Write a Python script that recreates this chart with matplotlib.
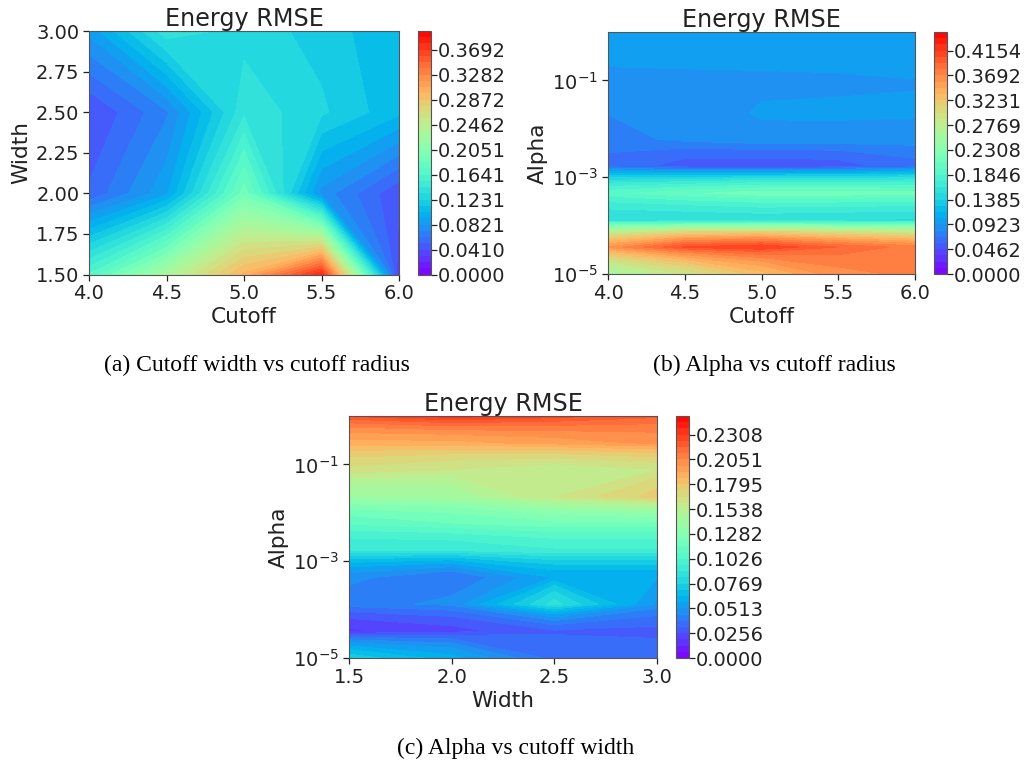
import numpy as np
import matplotlib
matplotlib.use("Agg")
import matplotlib.pyplot as plt

W, H = 1024, 765

cutoffs = [4.0, 4.5, 5.0, 5.5, 6.0]
widths = [1.5, 2.0, 2.5, 3.0]
alphas = [1e-5, 3.59e-5, 1.29e-4, 4.64e-4, 1.67e-3, 5.99e-3, 2.15e-2, 7.74e-2, 0.278, 1.0]

# rows: width, columns: cutoff
rmse_a = [
    [0.165, 0.232, 0.300, 0.380, 0.030],
    [0.053, 0.090, 0.190, 0.078, 0.042],
    [0.040, 0.070, 0.141, 0.125, 0.105],
    [0.085, 0.140, 0.129, 0.119, 0.103],
]
# rows: alpha, columns: cutoff
rmse_b = [
    [0.255, 0.290, 0.330, 0.365, 0.372],
    [0.360, 0.405, 0.415, 0.392, 0.375],
    [0.150, 0.150, 0.152, 0.150, 0.148],
    [0.192, 0.205, 0.215, 0.215, 0.212],
    [0.066, 0.052, 0.050, 0.052, 0.065],
    [0.075, 0.084, 0.0905, 0.090, 0.0885],
    [0.0815, 0.086, 0.0935, 0.094, 0.094],
    [0.086, 0.088, 0.089, 0.090, 0.0915],
    [0.097, 0.097, 0.097, 0.097, 0.097],
    [0.098, 0.098, 0.099, 0.102, 0.102],
]
# rows: alpha, columns: width
rmse_c = [
    [0.075, 0.060, 0.036, 0.035],
    [0.018, 0.023, 0.031, 0.030],
    [0.042, 0.0465, 0.086, 0.050],
    [0.047, 0.038, 0.058, 0.058],
    [0.090, 0.090, 0.095, 0.095],
    [0.110, 0.115, 0.120, 0.120],
    [0.140, 0.142, 0.160, 0.176],
    [0.165, 0.160, 0.155, 0.160],
    [0.190, 0.190, 0.195, 0.200],
    [0.225, 0.235, 0.228, 0.220],
]

vmax_a, vmax_b, vmax_c = 0.40, 0.45, 0.25
title = "Energy RMSE"
captions = ["(a) Cutoff width vs cutoff radius", "(b) Alpha vs cutoff radius", "(c) Alpha vs cutoff width"]

TICK_FS = 14
LABEL_FS = 15.6
TITLE_FS = 17.2
TXT = "#222222"
plt.rcParams.update({
    "font.family": "DejaVu Sans",
    "text.color": TXT,
    "axes.labelcolor": TXT,
    "xtick.color": TXT,
    "ytick.color": TXT,
    "axes.edgecolor": "#555555",
    "mathtext.default": "regular",
})

fig = plt.figure(figsize=(W / 100, H / 100), dpi=100)


def box(x0, x1, y0, y1):
    return [x0 / W, 1 - y1 / H, (x1 - x0) / W, (y1 - y0) / H]


def panel(x, y, z, vmax, xlabel, ylabel, logy, pos, cpos, xticks, yticks=None):
    ax = fig.add_axes(box(*pos))
    cax = fig.add_axes(box(*cpos))
    levels = np.linspace(0, vmax, 40)
    cs = ax.contourf(x, y, z, levels=levels, cmap="rainbow")
    if logy:
        ax.set_yscale("log")
        ax.set_yticks([1e-5, 1e-3, 1e-1])
        ax.minorticks_off()
        ax.set_ylim(1e-5, 1.0)
    else:
        ax.set_yticks(yticks)
        ax.set_yticklabels([f"{t:.2f}" for t in yticks])
    ax.set_xticks(xticks)
    ax.set_xticklabels([f"{t:.1f}" for t in xticks])
    ax.tick_params(labelsize=TICK_FS, length=4, width=0.9, pad=3)
    ax.set_xlabel(xlabel, fontsize=LABEL_FS, labelpad=3)
    ax.set_ylabel(ylabel, fontsize=LABEL_FS, labelpad=3.5)
    ax.set_title(title, fontsize=TITLE_FS, pad=3.5)
    cb = fig.colorbar(cs, cax=cax, ticks=levels[::4], format="%.4f")
    cb.ax.tick_params(labelsize=TICK_FS, length=4, width=0.9, pad=1)
    cb.outline.set_linewidth(0.8)
    return ax


panel(cutoffs, widths, rmse_a, vmax_a, "Cutoff", "Width", False,
      (89, 399, 31, 274.5), (418, 431, 31, 274.5), [4.0, 4.5, 5.0, 5.5, 6.0],
      [1.5, 1.75, 2.0, 2.25, 2.5, 2.75, 3.0])
panel(cutoffs, alphas, rmse_b, vmax_b, "Cutoff", "Alpha", True,
      (608, 915, 32, 274), (934, 947, 32, 274), [4.0, 4.5, 5.0, 5.5, 6.0])
panel(widths, alphas, rmse_c, vmax_c, "Width", "Alpha", True,
      (349, 657, 416, 658), (676, 689, 416, 658), [1.5, 2.0, 2.5, 3.0])

cap_font = dict(family="Liberation Serif", fontsize=17, color="black", ha="center", va="center")
fig.text(257 / W, 1 - 365 / H, captions[0], **cap_font)
fig.text(774 / W, 1 - 365 / H, captions[1], **cap_font)
fig.text(515.5 / W, 1 - 748 / H, captions[2], **cap_font)

fig.savefig("out.png", dpi=100)
